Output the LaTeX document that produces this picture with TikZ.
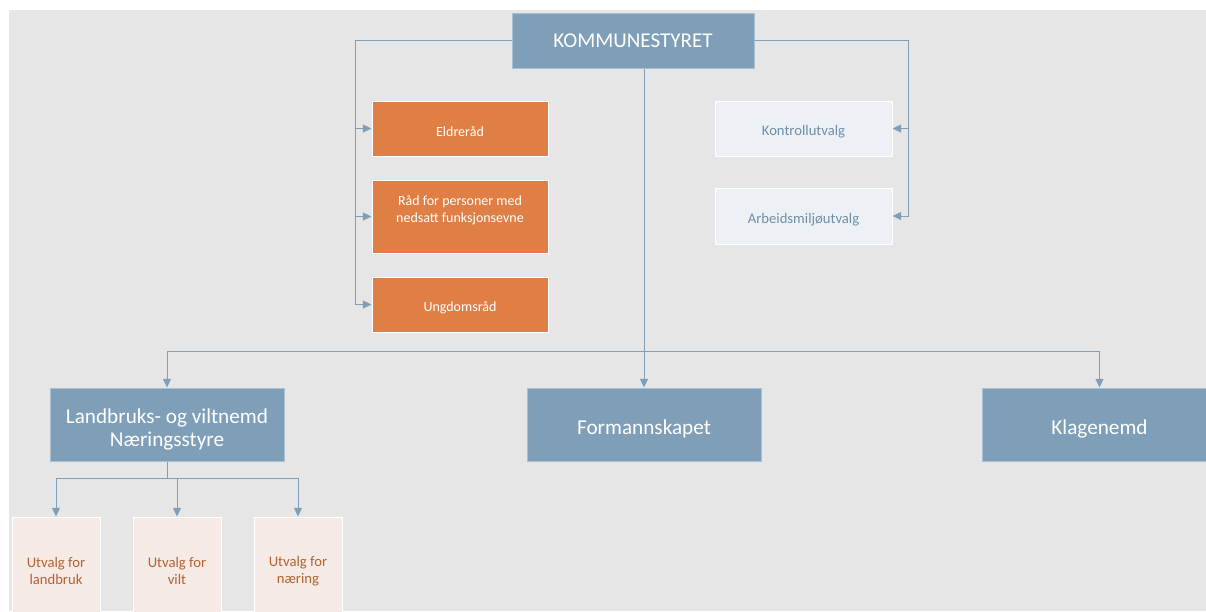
\documentclass[tikz,border=0pt]{standalone}
\usepackage{fontspec}
\setmainfont{Carlito}
\usetikzlibrary{arrows.meta}
\definecolor{bg}{HTML}{E6E6E6}
\definecolor{blu}{HTML}{7F9FB8}
\definecolor{bluborder}{HTML}{A9C0D3}
\definecolor{ora}{HTML}{DF7F45}
\definecolor{lite}{HTML}{EDF1F5}
\definecolor{litetext}{HTML}{6F8EA7}
\definecolor{pinkfill}{HTML}{F5EAE6}
\definecolor{pinktext}{HTML}{B4622F}
\begin{document}
\begin{tikzpicture}[x=0.75pt,y=-0.75pt,
  every node/.style={inner sep=0pt, align=center},
  every label/.style={inner sep=0pt, align=center},
  topbox/.style={draw=bluborder, fill=blu, line width=0.75pt,
    minimum width=181.5pt, minimum height=41.25pt,
    label={[text=white, font=\fontsize{15.8}{18.5}\selectfont, yshift=-0.5pt]center:#1}},
  bigbox/.style={draw=bluborder, fill=blu, line width=0.75pt,
    minimum width=175.5pt, minimum height=54.75pt,
    label={[text=white, font=\fontsize{15.9}{17.25}\selectfont, yshift=-3.5pt]center:#1}},
  orabox/.style n args={2}{draw=white, fill=ora, line width=0.75pt,
    minimum width=132pt,
    label={[text=white, font=\fontsize{10.5}{12.75}\selectfont, yshift=#2]center:#1}},
  litebox/.style={draw=white, fill=lite, line width=0.75pt,
    minimum width=132.75pt,
    label={[text=litetext, font=\fontsize{11}{13}\selectfont, yshift=-2.5pt]center:#1}},
  pinkbox/.style={draw=white, fill=pinkfill, line width=0.75pt,
    minimum width=66pt, minimum height=78pt,
    label={[text=pinktext, font=\fontsize{11}{12.75}\selectfont, yshift=-1.5pt]center:#1}},
  conn/.style={draw=blu, line width=0.75pt},
  arr/.style={conn, -{Triangle[length=6.5pt,width=6pt]}}
]
\useasboundingbox (0,0) rectangle (1206,611);
\clip (0,0) rectangle (1206,611);
\fill[white] (0,0) rectangle (1206,611);
\fill[bg] (9,10) rectangle (1206,611);

% nodes
\node[topbox={KOMMUNESTYRET}] (K) at (633,40.5) {};
\node[orabox={Eldreråd}{-2.5pt}, minimum height=41.25pt] (E) at (460,128.5) {};
\node[orabox={Råd for personer med\\nedsatt funksjonsevne}{4.5pt}, minimum height=54.75pt] (R) at (460,216.5) {};
\node[orabox={Ungdomsråd}{-2.5pt}, minimum height=41.25pt] (U) at (460,304.5) {};
\node[litebox={Kontrollutvalg}, minimum height=41.25pt] (KU) at (803.5,128.5) {};
\node[litebox={Arbeidsmiljøutvalg}, minimum height=42pt] (A) at (803.5,216) {};
\node[bigbox={Landbruks- og viltnemd\\Næringsstyre}] (L) at (167,424.5) {};
\node[bigbox={Formannskapet}] (F) at (644,424.5) {};
\node[bigbox={Klagenemd}] (Kl) at (1099.5,424.5) {};
\node[pinkbox={Utvalg for\\landbruk}] (P1) at (56,569) {};
\node[pinkbox={Utvalg for\\vilt}] (P2) at (177,569) {};
\node[pinkbox={Utvalg for\\næring}] (P3) at (298,569) {};

% connector guide coordinates
\coordinate (lb) at (355,0);
\coordinate (rb) at (908,0);
\coordinate (hb) at (0,351);
\coordinate (sb) at (0,478);

% left branch
\draw[arr] (K.west) -| (lb |- U.west) -- (U.west);
\draw[arr] (lb |- E.west) -- (E.west);
\draw[arr] (lb |- R.west) -- (R.west);
% right branch
\draw[arr] (K.east) -| (rb |- A.east) -- (A.east);
\draw[arr] (rb |- KU.east) -- (KU.east);
% centre
\draw[arr] (F.north |- K.south) -- (F.north);
\draw[arr] (hb -| L.north) -- (L.north);
\draw[arr] (hb -| L.north) -- (hb -| Kl.north) -- (Kl.north);
% sub
\draw[conn] (L.south) -- (sb -| L.south);
\draw[arr] (sb -| P2.north) -- (P2.north);
\draw[arr] (sb -| P2.north) -- (sb -| P1.north) -- (P1.north);
\draw[arr] (sb -| P2.north) -- (sb -| P3.north) -- (P3.north);
\end{tikzpicture}
\end{document}
